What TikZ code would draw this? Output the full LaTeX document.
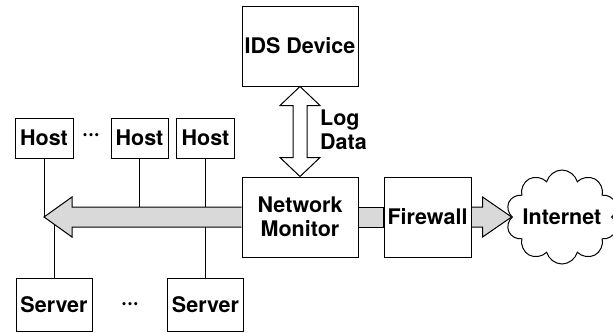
\documentclass[tikz,border=0pt]{standalone}
\usepackage{fontspec}
\setmainfont{TeX Gyre Heros}
\usetikzlibrary{shapes,arrows,positioning,calc,backgrounds}
\definecolor{busgray}{RGB}{217,217,217}

\begin{document}
\begin{tikzpicture}[x=1pt, y=-1pt, font=\bfseries\fontsize{21.5}{24}\selectfont,
    box/.style={draw, rectangle, fill=white, line width=1pt, inner sep=0pt, align=center},
    fat/.style={draw, line width=1pt, fill=busgray, line join=miter},
    link/.style={draw, line width=1pt}]
    \useasboundingbox (0,0) rectangle (613,332);

    \node [box, minimum width=116pt, minimum height=80pt] (ids) at (300,46) {IDS Device};
    \node [box, minimum width=116pt, minimum height=80pt] (mon) at (300,217) {Network\\Monitor};
    \node [box, minimum width=87pt, minimum height=80pt] (fw) at (427.5,217) {Firewall};
    \node [draw, cloud, cloud puffs=10, cloud ignores aspect, fill=white, line width=1pt,
           minimum width=112pt, minimum height=94pt, inner sep=0pt] (net) at (562,217) {Internet};

    \node [box, minimum width=58pt, minimum height=40pt] (h1) at (44,138) {Host};
    \node [box, minimum width=57pt, minimum height=40pt] (h2) at (139.5,138) {Host};
    \node [box, minimum width=58pt, minimum height=40pt] (h3) at (205.5,138) {Host};
    \node (hdots) at (91,137) {···};
    \node [box, minimum width=76pt, minimum height=53pt] (s1) at (54,304.5) {Server};
    \node [box, minimum width=76pt, minimum height=53pt] (s2) at (205.5,304.5) {Server};
    \node (sdots) at (130,306) {···};

    \node [anchor=west, align=left, inner sep=0pt] (log) at (320,130) {Log\\Data};
    \coordinate (tip) at (44,217);

    \begin{scope}[on background layer]
        % drops to the bus
        \draw [link] (h1.south) -- (tip);
        \draw [link] (h2.south) -- (h2.south |- tip);
        \draw [link] (h3.south) -- (s2.north);
        \draw [link] (s1.north) -- (s1.north |- tip);
        % bus from the monitor
        \draw [fat] ($(mon.west)+(0,-10)$) -- ($(tip)+(28,-10)$) -- ($(tip)+(28,-20)$) -- (tip)
            -- ($(tip)+(28,20)$) -- ($(tip)+(28,10)$) -- ($(mon.west)+(0,10)$);
        \draw [fat] ($(mon.east)+(0,-10)$) rectangle ($(fw.west)+(0,10)$);
        \draw [fat] ($(fw.east)+(0,-10)$) -- ($(net.west)+(-29,-10)$) -- ($(net.west)+(-29,-20)$) -- (net.west)
            -- ($(net.west)+(-29,20)$) -- ($(net.west)+(-29,10)$) -- ($(fw.east)+(0,10)$);
        % log data
        \draw [fat, fill=white] (ids.south) -- ($(ids.south)+(20,19)$) -- ($(ids.south)+(7,19)$)
            -- ($(mon.north)+(7,-19)$) -- ($(mon.north)+(20,-19)$) -- (mon.north)
            -- ($(mon.north)+(-20,-19)$) -- ($(mon.north)+(-7,-19)$)
            -- ($(ids.south)+(-7,19)$) -- ($(ids.south)+(-20,19)$) -- cycle;
    \end{scope}
\end{tikzpicture}
\end{document}
